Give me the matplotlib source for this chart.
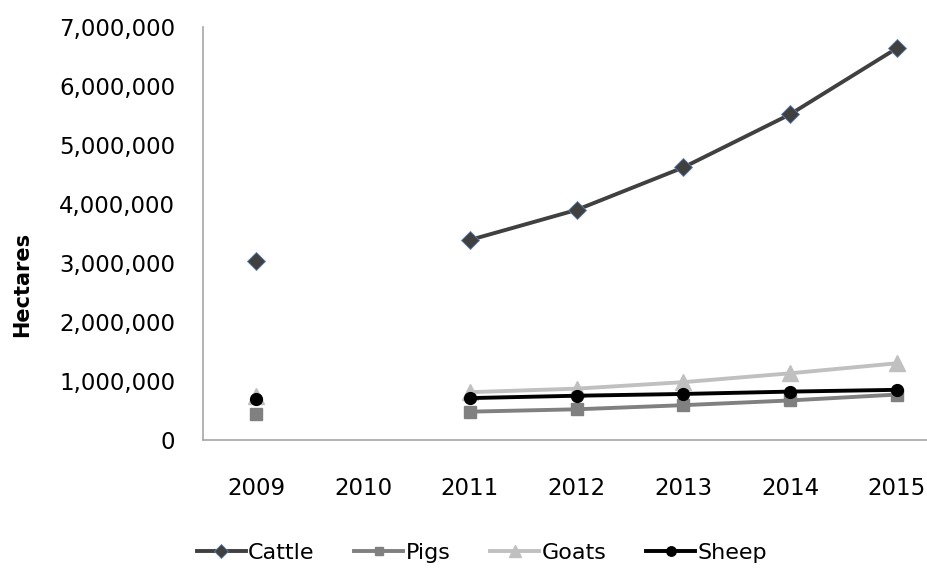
import numpy as np
import matplotlib
matplotlib.use("Agg")
import matplotlib.pyplot as plt
import matplotlib.ticker as ticker

# Grazing area by livestock type (hectares); 2010 has no data
years = ['2009', '2010', '2011', '2012', '2013', '2014', '2015']
cattle = [3030000, np.nan, 3390000, 3900000, 4620000, 5520000, 6640000]
pigs = [440000, np.nan, 480000, 520000, 590000, 670000, 770000]
goats = [750000, np.nan, 810000, 870000, 980000, 1130000, 1300000]
sheep = [690000, np.nan, 710000, 750000, 780000, 820000, 850000]

plt.rcParams.update({
    'font.family': 'DejaVu Sans',
    'font.size': 16,
})

fig = plt.figure(figsize=(9.27, 5.68), dpi=100)
ax = fig.add_axes([0.219, 0.2254, 0.806, 0.727])

x = np.arange(len(years))
lw = 2.8
ax.plot(x, cattle, color='#404040', lw=lw, marker='D', ms=9.5,
        mec='#5b7fb0', mew=0.6, label='Cattle', zorder=3)
ax.plot(x, pigs, color='#808080', lw=lw, marker='s', ms=8,
        label='Pigs', zorder=3)
ax.plot(x, goats, color='#c0c0c0', lw=lw, marker='^', ms=11,
        label='Goats', zorder=2)
ax.plot(x, sheep, color='black', lw=lw, marker='o', ms=8.5,
        label='Sheep', zorder=4)

ax.set_xlim(-0.5, 6.5)
ax.set_ylim(0, 7000000)
ax.set_xticks(x)
ax.set_xticklabels(years)
ax.yaxis.set_major_locator(ticker.MultipleLocator(1000000))
ax.yaxis.set_major_formatter(ticker.FuncFormatter(lambda v, _: f'{v:,.0f}'))
ax.tick_params(axis='both', length=0, labelsize=16.5, colors='#000000')
ax.tick_params(axis='x', pad=27)
ax.tick_params(axis='y', pad=20)

for side in ['top', 'right']:
    ax.spines[side].set_visible(False)
for side in ['left', 'bottom']:
    ax.spines[side].set_color('#a6a6a6')
    ax.spines[side].set_linewidth(1.2)

fig.text(0.024, 0.5, 'Hectares', rotation=90, fontsize=15, fontweight='bold',
         va='center', ha='center')

fig.legend(loc='center', bbox_to_anchor=(0.52, 0.027), ncol=4, frameon=False,
           fontsize=16, handlelength=2.2, handletextpad=0.1, columnspacing=1.8,
           markerscale=0.8)

fig.savefig('out.png', dpi=100)
